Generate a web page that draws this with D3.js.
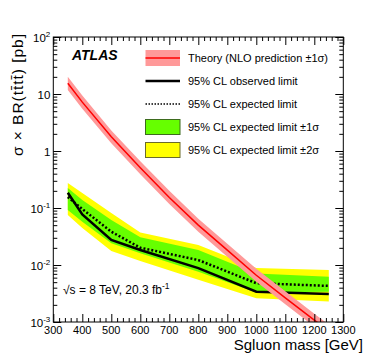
<!DOCTYPE html>
<html>
<head>
<meta charset="utf-8">
<script src="https://cdn.jsdelivr.net/npm/d3@7"></script>
<style>
body { margin: 0; background: #fff; }
text { font-family: "Liberation Sans", Arial, Helvetica, sans-serif; fill: #000; }
</style>
</head>
<body>
<div id="chart"></div>
<script>
// limit points (sgluon mass in GeV, cross section in pb)
var masses   = [350, 400, 500, 600, 800, 1000, 1250];
var observed = [0.185, 0.077, 0.0275, 0.0183, 0.0088, 0.0034, 0.0031];
var expected = [0.156, 0.096, 0.0384, 0.0201, 0.0122, 0.0048, 0.0043];
var exp1Up   = [0.224, 0.138, 0.0615, 0.0306, 0.0183, 0.0071, 0.0062];
var exp1Down = [0.092, 0.0575, 0.024, 0.016, 0.0076, 0.0033, 0.0034];
var exp2Up   = [0.275, 0.183, 0.082, 0.037, 0.0225, 0.0089, 0.0082];
var exp2Down = [0.075, 0.0446, 0.0176, 0.0117, 0.0055, 0.0026, 0.0023];

// theory NLO prediction
var theoryMass = [350, 400, 500, 600, 700, 800, 900, 1000, 1100, 1200, 1250];
var theory     = [15.4, 7.2, 1.78, 0.51, 0.153, 0.050, 0.0182, 0.0066, 0.00265, 0.00108, 0.00069];
var theoryUp   = [20.0, 9.4, 2.3, 0.66, 0.20, 0.065, 0.0237, 0.0086, 0.00345, 0.0014, 0.0009];
var theoryDown = [11.8, 5.5, 1.37, 0.39, 0.118, 0.0385, 0.014, 0.0051, 0.00204, 0.00083, 0.00053];

var xMajor = [300, 400, 500, 600, 700, 800, 900, 1000, 1100, 1200, 1300];
var yDecades = [0.001, 0.01, 0.1, 1, 10, 100];
var yLabels = [["10", "-3"], ["10", "-2"], ["10", "-1"], ["1", ""], ["10", ""], ["10", "2"]];

var legendItems = [
      "Theory (NLO prediction \u00b11\u03c3)",
      "95% CL observed limit",
      "95% CL expected limit",
      "95% CL expected limit \u00b11\u03c3",
      "95% CL expected limit \u00b12\u03c3"
];

var W = 374, H = 359;
var plotLeft = 53.3, plotRight = 343.3, plotTop = 37, plotBottom = 322;

var x = d3.scaleLinear().domain([300, 1300]).range([plotLeft, plotRight]);
var y = d3.scaleLog().domain([0.001, 100]).range([plotBottom, plotTop]);

var svg = d3.select("#chart").append("svg")
      .attr("width", W)
      .attr("height", H);

svg.append("clipPath").attr("id", "clip")
      .append("rect")
      .attr("x", plotLeft).attr("y", plotTop)
      .attr("width", plotRight - plotLeft).attr("height", plotBottom - plotTop);

var plot = svg.append("g").attr("clip-path", "url(#clip)");

function band(xs, lo, hi) {
      return d3.area()
            .x(function (d, i) { return x(xs[i]); })
            .y0(function (d, i) { return y(lo[i]); })
            .y1(function (d, i) { return y(hi[i]); })(xs);
}
function line(xs, ys) {
      return d3.line()
            .x(function (d, i) { return x(xs[i]); })
            .y(function (d, i) { return y(ys[i]); })(xs);
}

// brazil bands
plot.append("path").attr("d", band(masses, exp2Down, exp2Up)).attr("fill", "#ffff00");
plot.append("path").attr("d", band(masses, exp1Down, exp1Up)).attr("fill", "#66ff00");

// expected and observed
plot.append("path").attr("d", line(masses, expected))
      .attr("fill", "none").attr("stroke", "#000")
      .attr("stroke-width", 2.5).attr("stroke-dasharray", "2,2");
plot.append("path").attr("d", line(masses, observed))
      .attr("fill", "none").attr("stroke", "#000").attr("stroke-width", 2.5);

// theory
plot.append("path").attr("d", band(theoryMass, theoryDown, theoryUp))
      .attr("fill", "#ff9999");
plot.append("path").attr("d", line(theoryMass, theory))
      .attr("fill", "none").attr("stroke", "#ff0000").attr("stroke-width", 1.5);

// axes: ROOT style ticks pointing inwards on all four sides
var xMinor = d3.range(300, 1301, 20).filter(function (v) { return v % 100 !== 0; });
var yMinor = [];
yDecades.slice(0, 5).forEach(function (d) {
      for (var k = 2; k <= 9; k++) yMinor.push(d * k);
});

function ticks(axis, vals, size, transform) {
      var g = svg.append("g")
            .attr("transform", transform)
            .call(axis.tickValues(vals).tickSizeInner(-size).tickSizeOuter(0).tickFormat(""));
      g.select(".domain").remove();
      g.selectAll("line").attr("stroke", "#000").attr("stroke-width", 1);
}
ticks(d3.axisBottom(x), xMajor, 8, "translate(0," + plotBottom + ")");
ticks(d3.axisBottom(x), xMinor, 4, "translate(0," + plotBottom + ")");
ticks(d3.axisTop(x), xMajor, 8, "translate(0," + plotTop + ")");
ticks(d3.axisTop(x), xMinor, 4, "translate(0," + plotTop + ")");
ticks(d3.axisLeft(y), yDecades, 8, "translate(" + plotLeft + ",0)");
ticks(d3.axisLeft(y), yMinor, 4, "translate(" + plotLeft + ",0)");
ticks(d3.axisRight(y), yDecades, 8, "translate(" + plotRight + ",0)");
ticks(d3.axisRight(y), yMinor, 4, "translate(" + plotRight + ",0)");

svg.append("rect")
      .attr("x", plotLeft).attr("y", plotTop)
      .attr("width", plotRight - plotLeft).attr("height", plotBottom - plotTop)
      .attr("fill", "none").attr("stroke", "#000").attr("stroke-width", 1);

// x tick labels
svg.selectAll(".xlab").data(xMajor).enter().append("text")
      .attr("class", "xlab")
      .attr("x", function (d) { return x(d); })
      .attr("y", plotBottom + 12)
      .attr("text-anchor", "middle")
      .style("font-size", "11px")
      .text(function (d) { return d; });

// y tick labels with superscripts
yDecades.forEach(function (d, i) {
      var t = svg.append("text")
            .attr("x", plotLeft - 3)
            .attr("y", y(d) + 4.5)
            .attr("text-anchor", "end")
            .style("font-size", "11.5px");
      t.append("tspan").text(yLabels[i][0]);
      if (yLabels[i][1]) {
            t.append("tspan").attr("dy", -5).style("font-size", "8px").text(yLabels[i][1]);
      }
});

// axis titles
svg.append("text")
      .attr("x", 363)
      .attr("y", 350)
      .attr("text-anchor", "end")
      .style("font-size", "15px")
      .text("Sgluon mass [GeV]");

svg.append("text")
      .attr("transform", "translate(23,95) rotate(-90)")
      .attr("text-anchor", "middle")
      .style("font-size", "15.5px")
      .attr("textLength", 122)
      .text("\u03c3 \u00d7 BR(tt\u0304tt\u0304) [pb]");

// ATLAS label
svg.append("text")
      .attr("x", 72)
      .attr("y", 60)
      .style("font-size", "14px")
      .style("font-weight", "bold")
      .style("font-style", "italic")
      .text("ATLAS");

// energy and luminosity
var lumi = svg.append("text")
      .attr("x", 63)
      .attr("y", 294)
      .style("font-size", "12px");
lumi.append("tspan").text("\u221as = 8 TeV, 20.3 fb");
lumi.append("tspan").attr("dy", -5).style("font-size", "8.5px").text("-1");

// legend
var legX = 145.5, legW = 34.5, textX = 188;
var legY = [58, 81, 104, 127, 150];
var lg = svg.append("g");

lg.append("rect").attr("x", legX).attr("y", legY[0] - 8).attr("width", legW).attr("height", 16)
      .attr("fill", "#ff9999");
lg.append("line").attr("x1", legX).attr("x2", legX + legW).attr("y1", legY[0]).attr("y2", legY[0])
      .attr("stroke", "#ff0000").attr("stroke-width", 1.5);
lg.append("line").attr("x1", legX).attr("x2", legX + legW).attr("y1", legY[1]).attr("y2", legY[1])
      .attr("stroke", "#000").attr("stroke-width", 2.5);
lg.append("line").attr("x1", legX).attr("x2", legX + legW).attr("y1", legY[2]).attr("y2", legY[2])
      .attr("stroke", "#000").attr("stroke-width", 1.5).attr("stroke-dasharray", "1.5,1.5");
lg.append("rect").attr("x", legX).attr("y", legY[3] - 7.5).attr("width", legW).attr("height", 15)
      .attr("fill", "#66ff00").attr("stroke", "#3d6b1e").attr("stroke-width", 1);
lg.append("rect").attr("x", legX).attr("y", legY[4] - 7.5).attr("width", legW).attr("height", 15)
      .attr("fill", "#ffff00").attr("stroke", "#6b6b2a").attr("stroke-width", 1);

lg.selectAll(".legtext").data(legendItems).enter().append("text")
      .attr("class", "legtext")
      .attr("x", textX)
      .attr("y", function (d, i) { return legY[i] + 4; })
      .style("font-size", "11px")
      .text(function (d) { return d; });
</script>
</body>
</html>
